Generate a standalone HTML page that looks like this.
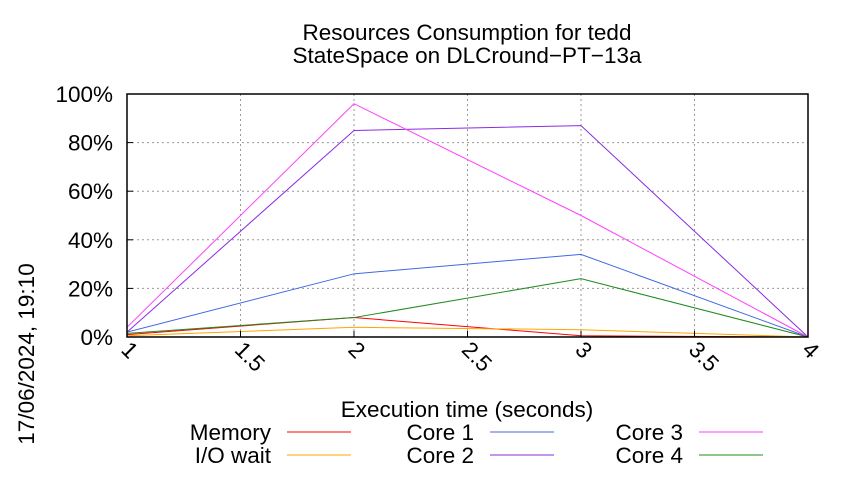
<!DOCTYPE html>
<html><head><meta charset="utf-8"><style>
body{margin:0;background:#fff;}
svg{font-family:"Liberation Sans",sans-serif;}
</style></head><body>
<svg id="c" width="850" height="475" xmlns="http://www.w3.org/2000/svg">
<g>
<text x="467" y="40" font-size="22.5" text-anchor="middle">Resources Consumption for tedd</text>
<text x="467" y="63" font-size="22.5" text-anchor="middle">StateSpace on DLCround−PT−13a</text>
</g>
<text transform="translate(34,354) rotate(-90)" font-size="22.5" text-anchor="middle">17/06/2024, 19:10</text>
<text x="467" y="417" font-size="22.5" text-anchor="middle">Execution time (seconds)</text>
<g id="grid"></g><g id="series"></g><g id="axes"></g><g id="legend"></g>
</svg>
<script>
const xTicks=[1,1.5,2,2.5,3,3.5,4];
const xTickLabels=["1","1.5","2","2.5","3","3.5","4"];
const yTicks=[0,20,40,60,80,100];
const yTickLabels=["0%","20%","40%","60%","80%","100%"];
const times=[1,2,3,4];
const memory=[1,8,0.5,0];
const ioWait=[0.5,4,3,0];
const core1=[2,26,34,0];
const core2=[2,85,87,0];
const core3=[4,96,50,0];
const core4=[1.5,8,24,0];
const seriesNames=["Memory","I/O wait","Core 1","Core 2","Core 3","Core 4"];
const seriesData=[memory,ioWait,core1,core2,core3,core4];
const colors=["#ff0000","#ffa500","#4169e1","#8a2be2","#ff40ff","#228b22"];
const L=127,R=808,T=94,B=337;
const sx=v=>L+(v-1)/3*(R-L), sy=v=>B-v/100*(B-T);
const NS="http://www.w3.org/2000/svg";
function mk(t,a,p){const e=document.createElementNS(NS,t);for(const k in a)e.setAttribute(k,a[k]);p.appendChild(e);return e;}
const grid=document.getElementById('grid'),axes=document.getElementById('axes'),ser=document.getElementById('series'),leg=document.getElementById('legend');
xTicks.forEach((v,i)=>{
 const g=mk('line',{x1:sx(v),x2:sx(v),y1:T,y2:B,stroke:'#999','stroke-dasharray':'2,3','stroke-width':1},grid);
 
 
 mk('line',{x1:sx(v),x2:sx(v),y1:B,y2:B-6,stroke:'#000'},axes);
 const t=mk('text',{transform:`translate(${sx(v)-7},${B+14}) rotate(45)`,'font-size':22.5},axes);
 t.textContent=xTickLabels[i];
 
 
});
yTicks.forEach((v,i)=>{
 const g=mk('line',{x1:L,x2:R,y1:sy(v),y2:sy(v),stroke:'#999','stroke-dasharray':'2,3','stroke-width':1},grid);
 
 
 mk('line',{x1:L,x2:L+6,y1:sy(v),y2:sy(v),stroke:'#000'},axes);
 const t=mk('text',{x:113,y:sy(v)+8,'font-size':22.5,'text-anchor':'end'},axes);
 t.textContent=yTickLabels[i];
 
 
});
const fr=mk('rect',{x:L,y:T,width:R-L,height:B-T,fill:'none',stroke:'#000','stroke-width':1.5},axes);


seriesData.forEach((d,i)=>{
 const p=mk('polyline',{points:d.map((v,j)=>sx(times[j])+','+sy(v)).join(' '),fill:'none',stroke:colors[i],'stroke-width':1},ser);
 
 
});
const legPos=[[271,432],[271,455],[474,432],[474,455],[683,432],[683,455]];
seriesNames.forEach((n,i)=>{
 const [x,y]=legPos[i];
 const g=mk('g',{},leg);
 
 
 const t=mk('text',{x:x,y:y+8,'font-size':22.5,'text-anchor':'end'},g);t.textContent=n;
 mk('line',{x1:x+16,x2:x+80,y1:y,y2:y,stroke:colors[i]},g);
});
</script>
</body></html>
